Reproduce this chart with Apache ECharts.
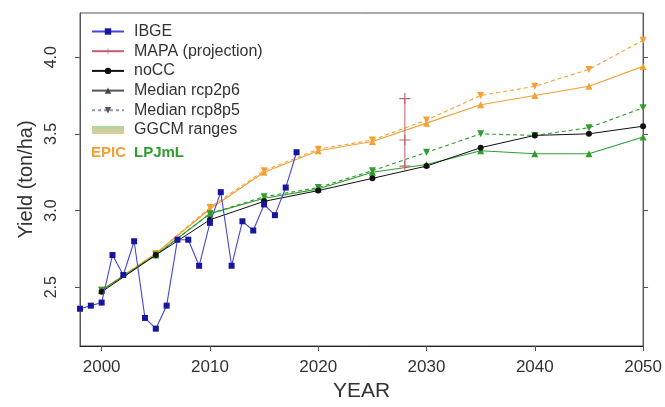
<!DOCTYPE html>
<html>
<head>
<meta charset="utf-8">
<script src="https://cdn.jsdelivr.net/npm/echarts@6/dist/echarts.min.js"></script>
<style>html,body{margin:0;padding:0;background:#fff}#c{width:665px;height:407px}</style>
</head>
<body>
<div id="c"></div>
<script>
const ibgeYears = [1998,1999,2000,2001,2002,2003,2004,2005,2006,2007,2008,2009,2010,2011,2012,2013,2014,2015,2016,2017,2018];
const ibgeYield = [2.36,2.38,2.40,2.71,2.58,2.80,2.30,2.23,2.38,2.81,2.81,2.64,2.92,3.12,2.64,2.93,2.87,3.04,2.97,3.15,3.38];
const mapaYears = [2028,2028,2028];
const mapaYield = [3.73,3.46,3.29];
const modelYears = [2000,2005,2010,2015,2020,2025,2030,2035,2040,2045,2050];
const noCC = [2.47,2.71,2.94,3.06,3.13,3.21,3.29,3.41,3.49,3.50,3.55];
const epicRcp26 = [2.48,2.72,3.01,3.25,3.39,3.45,3.57,3.69,3.75,3.81,3.94];
const epicRcp85 = [2.48,2.72,3.02,3.26,3.40,3.46,3.59,3.75,3.81,3.92,4.11];
const lpjRcp26 = [2.48,2.71,2.98,3.08,3.14,3.25,3.30,3.39,3.37,3.37,3.48];
const lpjRcp85 = [2.48,2.71,2.98,3.09,3.15,3.26,3.38,3.50,3.49,3.54,3.67];
const yTicks = [2.5,3.0,3.5,4.0];
const xTicks = [2000,2010,2020,2030,2040,2050];

const FONT = 'Liberation Sans, Arial, Helvetica, sans-serif';
const ORANGE = '#f4a035';
const GREEN = '#2e9e2e';
const TXT = '#333';
const pair = (xs, ys) => xs.map((x, i) => [x, ys[i]]);
const plusPath = 'path://M4.5,0h1v4.5h4.5v1h-4.5v4.5h-1v-4.5h-4.5v-1h4.5z';

const chart = echarts.init(document.getElementById('c'), null, {renderer: 'canvas'});

function modelSeries(name, ys, color, dashed, down) {
  return {
    name: name, type: 'line', data: pair(modelYears, ys),
    symbol: 'triangle', symbolSize: 7, symbolRotate: down ? 180 : 0,
    lineStyle: {color: color, width: 1.1, type: dashed ? [4, 3] : 'solid'},
    itemStyle: {color: color}, z: 2
  };
}

chart.setOption({
  animation: false,
  backgroundColor: '#fff',
  textStyle: {fontFamily: FONT},
  grid: {left: 80, right: 17, top: 13, bottom: 61, show: true, borderColor: '#555', borderWidth: 1},
  xAxis: [{
    type: 'value', min: 1998, max: 2050, position: 'bottom',
    name: 'YEAR', nameLocation: 'middle', nameGap: 25,
    nameTextStyle: {fontSize: 21, color: TXT, fontFamily: FONT},
    axisLine: {show: true, lineStyle: {color: '#222', width: 1.2}},
    axisTick: {show: true, length: 5, customValues: xTicks, lineStyle: {color: '#555'}},
    axisLabel: {fontSize: 17, color: TXT, margin: 13, customValues: xTicks, formatter: v => String(v)},
    splitLine: {show: false}
  }, {
    type: 'value', min: 1998, max: 2050, position: 'top',
    axisLine: {show: false}, axisTick: {show: false}, axisLabel: {show: false}, splitLine: {show: false}
  }],
  yAxis: [{
    type: 'value', min: 2.117, max: 4.288, position: 'left',
    name: 'Yield (ton/ha)', nameLocation: 'middle', nameGap: 44,
    nameTextStyle: {fontSize: 20, color: TXT, fontFamily: FONT},
    axisLine: {show: true, lineStyle: {color: '#555'}},
    axisTick: {show: true, length: 5, customValues: yTicks, lineStyle: {color: '#555'}},
    axisLabel: {fontSize: 16, color: TXT, rotate: 90, margin: 20, customValues: yTicks, formatter: v => v.toFixed(1)},
    splitLine: {show: false}
  }, {
    type: 'value', min: 2.117, max: 4.288, position: 'right',
    axisLine: {show: true, lineStyle: {color: '#555'}},
    axisTick: {show: true, length: 5, customValues: yTicks, lineStyle: {color: '#555'}},
    axisLabel: {show: false}, splitLine: {show: false}
  }],
  legend: {
    orient: 'vertical', left: 91, top: 23.5, padding: 0,
    itemWidth: 32, itemHeight: 8, itemGap: 3.7, selectedMode: false,
    textStyle: {fontSize: 16, color: TXT, fontFamily: FONT, padding: [0, 0, 0, 5]},
    data: [
      'IBGE', 'MAPA (projection)', 'noCC', 'Median rcp2p6', 'Median rcp8p5',
      {name: 'GGCM ranges', icon: 'rect', itemStyle: {color: new echarts.graphic.LinearGradient(0, 0, 0, 1, [{offset: 0, color: '#a8d8a0'}, {offset: 1, color: '#e8c898'}])}}
    ]
  },
  graphic: [
    {type: 'text', left: 91, top: 145, style: {text: 'EPIC', fill: ORANGE, font: 'bold 15px ' + FONT}},
    {type: 'text', left: 134, top: 145, style: {text: 'LPJmL', fill: GREEN, font: 'bold 15px ' + FONT}}
  ],
  series: [
    modelSeries('EPIC rcp2p6', epicRcp26, ORANGE, false, false),
    modelSeries('EPIC rcp8p5', epicRcp85, ORANGE, true, true),
    modelSeries('LPJmL rcp2p6', lpjRcp26, GREEN, false, false),
    modelSeries('LPJmL rcp8p5', lpjRcp85, GREEN, true, true),
    {
      name: 'noCC', type: 'line', data: pair(modelYears, noCC),
      symbol: 'circle', symbolSize: 6,
      lineStyle: {color: '#111', width: 1}, itemStyle: {color: '#111'}, z: 3
    },
    {
      name: 'IBGE', type: 'line', data: pair(ibgeYears, ibgeYield),
      symbol: 'rect', symbolSize: 6,
      lineStyle: {color: '#4646d6', width: 1.1}, itemStyle: {color: '#15159e'}, z: 4
    },
    {
      name: 'MAPA (projection)', type: 'line', data: pair(mapaYears, mapaYield),
      symbol: plusPath, symbolSize: 11,
      lineStyle: {color: '#c2606e', width: 1}, itemStyle: {color: '#c2606e'}, z: 5
    },
    {
      name: 'Median rcp2p6', type: 'line', data: [],
      symbol: 'triangle', symbolSize: 7,
      lineStyle: {color: '#555', width: 1}, itemStyle: {color: '#444'}
    },
    {
      name: 'Median rcp8p5', type: 'line', data: [],
      symbol: 'triangle', symbolSize: 7, symbolRotate: 180,
      lineStyle: {color: '#8a9ab0', width: 1, type: [3, 3]}, itemStyle: {color: '#555'}
    },
    {
      name: 'GGCM ranges', type: 'line', data: [], symbol: 'none',
      lineStyle: {color: '#b8d0a0'}, itemStyle: {color: '#b8d0a0'}
    }
  ]
});
</script>
</body>
</html>
